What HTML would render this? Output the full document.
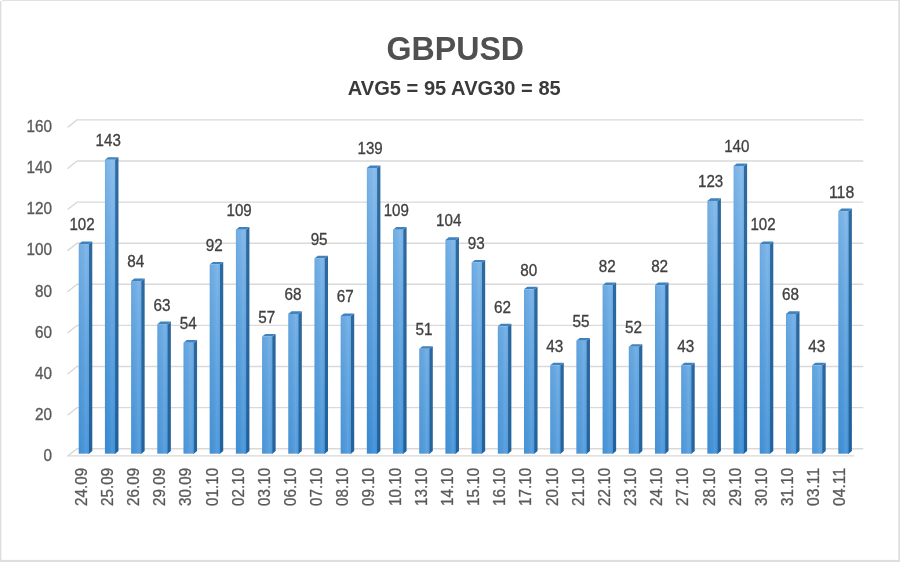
<!DOCTYPE html>
<html lang="en"><head><meta charset="utf-8"><title>GBPUSD</title>
<style>
html,body{margin:0;padding:0;background:#fff;}
body{width:900px;height:562px;overflow:hidden;}
svg{display:block;}
</style></head><body>
<svg width="900" height="562" viewBox="0 0 900 562">
<defs>
<linearGradient id="gh" x1="0" y1="0" x2="1" y2="0">
<stop offset="0" stop-color="#2a6fb0" stop-opacity="0.14"/><stop offset="0.25" stop-color="#2a6fb0" stop-opacity="0.03"/>
<stop offset="0.7" stop-color="#ffffff" stop-opacity="0.09"/><stop offset="1" stop-color="#ffffff" stop-opacity="0"/>
</linearGradient>

<linearGradient id="f43" gradientUnits="userSpaceOnUse" x1="0" y1="244.5" x2="0" y2="574.5"><stop offset="0" stop-color="#88bcec"/><stop offset="0.45" stop-color="#5fa3df"/><stop offset="1" stop-color="#378ad3"/></linearGradient>
<linearGradient id="s43" gradientUnits="userSpaceOnUse" x1="0" y1="244.5" x2="0" y2="574.5"><stop offset="0" stop-color="#316c9f"/><stop offset="1" stop-color="#1e5e9a"/></linearGradient>
<linearGradient id="f51" gradientUnits="userSpaceOnUse" x1="0" y1="236.3" x2="0" y2="566.3"><stop offset="0" stop-color="#88bcec"/><stop offset="0.45" stop-color="#5fa3df"/><stop offset="1" stop-color="#378ad3"/></linearGradient>
<linearGradient id="s51" gradientUnits="userSpaceOnUse" x1="0" y1="236.3" x2="0" y2="566.3"><stop offset="0" stop-color="#316c9f"/><stop offset="1" stop-color="#1e5e9a"/></linearGradient>
<linearGradient id="f52" gradientUnits="userSpaceOnUse" x1="0" y1="235.2" x2="0" y2="565.2"><stop offset="0" stop-color="#88bcec"/><stop offset="0.45" stop-color="#5fa3df"/><stop offset="1" stop-color="#378ad3"/></linearGradient>
<linearGradient id="s52" gradientUnits="userSpaceOnUse" x1="0" y1="235.2" x2="0" y2="565.2"><stop offset="0" stop-color="#316c9f"/><stop offset="1" stop-color="#1e5e9a"/></linearGradient>
<linearGradient id="f54" gradientUnits="userSpaceOnUse" x1="0" y1="233.2" x2="0" y2="563.2"><stop offset="0" stop-color="#88bcec"/><stop offset="0.45" stop-color="#5fa3df"/><stop offset="1" stop-color="#378ad3"/></linearGradient>
<linearGradient id="s54" gradientUnits="userSpaceOnUse" x1="0" y1="233.2" x2="0" y2="563.2"><stop offset="0" stop-color="#316c9f"/><stop offset="1" stop-color="#1e5e9a"/></linearGradient>
<linearGradient id="f55" gradientUnits="userSpaceOnUse" x1="0" y1="232.2" x2="0" y2="562.2"><stop offset="0" stop-color="#88bcec"/><stop offset="0.45" stop-color="#5fa3df"/><stop offset="1" stop-color="#378ad3"/></linearGradient>
<linearGradient id="s55" gradientUnits="userSpaceOnUse" x1="0" y1="232.2" x2="0" y2="562.2"><stop offset="0" stop-color="#316c9f"/><stop offset="1" stop-color="#1e5e9a"/></linearGradient>
<linearGradient id="f57" gradientUnits="userSpaceOnUse" x1="0" y1="230.1" x2="0" y2="560.1"><stop offset="0" stop-color="#88bcec"/><stop offset="0.45" stop-color="#5fa3df"/><stop offset="1" stop-color="#378ad3"/></linearGradient>
<linearGradient id="s57" gradientUnits="userSpaceOnUse" x1="0" y1="230.1" x2="0" y2="560.1"><stop offset="0" stop-color="#316c9f"/><stop offset="1" stop-color="#1e5e9a"/></linearGradient>
<linearGradient id="f62" gradientUnits="userSpaceOnUse" x1="0" y1="225.0" x2="0" y2="555.0"><stop offset="0" stop-color="#88bcec"/><stop offset="0.45" stop-color="#5fa3df"/><stop offset="1" stop-color="#378ad3"/></linearGradient>
<linearGradient id="s62" gradientUnits="userSpaceOnUse" x1="0" y1="225.0" x2="0" y2="555.0"><stop offset="0" stop-color="#316c9f"/><stop offset="1" stop-color="#1e5e9a"/></linearGradient>
<linearGradient id="f63" gradientUnits="userSpaceOnUse" x1="0" y1="223.9" x2="0" y2="553.9"><stop offset="0" stop-color="#88bcec"/><stop offset="0.45" stop-color="#5fa3df"/><stop offset="1" stop-color="#378ad3"/></linearGradient>
<linearGradient id="s63" gradientUnits="userSpaceOnUse" x1="0" y1="223.9" x2="0" y2="553.9"><stop offset="0" stop-color="#316c9f"/><stop offset="1" stop-color="#1e5e9a"/></linearGradient>
<linearGradient id="f67" gradientUnits="userSpaceOnUse" x1="0" y1="219.8" x2="0" y2="549.8"><stop offset="0" stop-color="#88bcec"/><stop offset="0.45" stop-color="#5fa3df"/><stop offset="1" stop-color="#378ad3"/></linearGradient>
<linearGradient id="s67" gradientUnits="userSpaceOnUse" x1="0" y1="219.8" x2="0" y2="549.8"><stop offset="0" stop-color="#316c9f"/><stop offset="1" stop-color="#1e5e9a"/></linearGradient>
<linearGradient id="f68" gradientUnits="userSpaceOnUse" x1="0" y1="218.8" x2="0" y2="548.8"><stop offset="0" stop-color="#88bcec"/><stop offset="0.45" stop-color="#5fa3df"/><stop offset="1" stop-color="#378ad3"/></linearGradient>
<linearGradient id="s68" gradientUnits="userSpaceOnUse" x1="0" y1="218.8" x2="0" y2="548.8"><stop offset="0" stop-color="#316c9f"/><stop offset="1" stop-color="#1e5e9a"/></linearGradient>
<linearGradient id="f80" gradientUnits="userSpaceOnUse" x1="0" y1="206.5" x2="0" y2="536.5"><stop offset="0" stop-color="#88bcec"/><stop offset="0.45" stop-color="#5fa3df"/><stop offset="1" stop-color="#378ad3"/></linearGradient>
<linearGradient id="s80" gradientUnits="userSpaceOnUse" x1="0" y1="206.5" x2="0" y2="536.5"><stop offset="0" stop-color="#316c9f"/><stop offset="1" stop-color="#1e5e9a"/></linearGradient>
<linearGradient id="f82" gradientUnits="userSpaceOnUse" x1="0" y1="204.4" x2="0" y2="534.4"><stop offset="0" stop-color="#88bcec"/><stop offset="0.45" stop-color="#5fa3df"/><stop offset="1" stop-color="#378ad3"/></linearGradient>
<linearGradient id="s82" gradientUnits="userSpaceOnUse" x1="0" y1="204.4" x2="0" y2="534.4"><stop offset="0" stop-color="#316c9f"/><stop offset="1" stop-color="#1e5e9a"/></linearGradient>
<linearGradient id="f84" gradientUnits="userSpaceOnUse" x1="0" y1="202.4" x2="0" y2="532.4"><stop offset="0" stop-color="#88bcec"/><stop offset="0.45" stop-color="#5fa3df"/><stop offset="1" stop-color="#378ad3"/></linearGradient>
<linearGradient id="s84" gradientUnits="userSpaceOnUse" x1="0" y1="202.4" x2="0" y2="532.4"><stop offset="0" stop-color="#316c9f"/><stop offset="1" stop-color="#1e5e9a"/></linearGradient>
<linearGradient id="f92" gradientUnits="userSpaceOnUse" x1="0" y1="194.1" x2="0" y2="524.1"><stop offset="0" stop-color="#88bcec"/><stop offset="0.45" stop-color="#5fa3df"/><stop offset="1" stop-color="#378ad3"/></linearGradient>
<linearGradient id="s92" gradientUnits="userSpaceOnUse" x1="0" y1="194.1" x2="0" y2="524.1"><stop offset="0" stop-color="#316c9f"/><stop offset="1" stop-color="#1e5e9a"/></linearGradient>
<linearGradient id="f93" gradientUnits="userSpaceOnUse" x1="0" y1="193.1" x2="0" y2="523.1"><stop offset="0" stop-color="#88bcec"/><stop offset="0.45" stop-color="#5fa3df"/><stop offset="1" stop-color="#378ad3"/></linearGradient>
<linearGradient id="s93" gradientUnits="userSpaceOnUse" x1="0" y1="193.1" x2="0" y2="523.1"><stop offset="0" stop-color="#316c9f"/><stop offset="1" stop-color="#1e5e9a"/></linearGradient>
<linearGradient id="f95" gradientUnits="userSpaceOnUse" x1="0" y1="191.1" x2="0" y2="521.1"><stop offset="0" stop-color="#88bcec"/><stop offset="0.45" stop-color="#5fa3df"/><stop offset="1" stop-color="#378ad3"/></linearGradient>
<linearGradient id="s95" gradientUnits="userSpaceOnUse" x1="0" y1="191.1" x2="0" y2="521.1"><stop offset="0" stop-color="#316c9f"/><stop offset="1" stop-color="#1e5e9a"/></linearGradient>
<linearGradient id="f102" gradientUnits="userSpaceOnUse" x1="0" y1="183.9" x2="0" y2="513.9"><stop offset="0" stop-color="#88bcec"/><stop offset="0.45" stop-color="#5fa3df"/><stop offset="1" stop-color="#378ad3"/></linearGradient>
<linearGradient id="s102" gradientUnits="userSpaceOnUse" x1="0" y1="183.9" x2="0" y2="513.9"><stop offset="0" stop-color="#316c9f"/><stop offset="1" stop-color="#1e5e9a"/></linearGradient>
<linearGradient id="f104" gradientUnits="userSpaceOnUse" x1="0" y1="181.8" x2="0" y2="511.8"><stop offset="0" stop-color="#88bcec"/><stop offset="0.45" stop-color="#5fa3df"/><stop offset="1" stop-color="#378ad3"/></linearGradient>
<linearGradient id="s104" gradientUnits="userSpaceOnUse" x1="0" y1="181.8" x2="0" y2="511.8"><stop offset="0" stop-color="#316c9f"/><stop offset="1" stop-color="#1e5e9a"/></linearGradient>
<linearGradient id="f109" gradientUnits="userSpaceOnUse" x1="0" y1="176.7" x2="0" y2="506.7"><stop offset="0" stop-color="#88bcec"/><stop offset="0.45" stop-color="#5fa3df"/><stop offset="1" stop-color="#378ad3"/></linearGradient>
<linearGradient id="s109" gradientUnits="userSpaceOnUse" x1="0" y1="176.7" x2="0" y2="506.7"><stop offset="0" stop-color="#316c9f"/><stop offset="1" stop-color="#1e5e9a"/></linearGradient>
<linearGradient id="f118" gradientUnits="userSpaceOnUse" x1="0" y1="167.4" x2="0" y2="497.4"><stop offset="0" stop-color="#88bcec"/><stop offset="0.45" stop-color="#5fa3df"/><stop offset="1" stop-color="#378ad3"/></linearGradient>
<linearGradient id="s118" gradientUnits="userSpaceOnUse" x1="0" y1="167.4" x2="0" y2="497.4"><stop offset="0" stop-color="#316c9f"/><stop offset="1" stop-color="#1e5e9a"/></linearGradient>
<linearGradient id="f123" gradientUnits="userSpaceOnUse" x1="0" y1="162.3" x2="0" y2="492.3"><stop offset="0" stop-color="#88bcec"/><stop offset="0.45" stop-color="#5fa3df"/><stop offset="1" stop-color="#378ad3"/></linearGradient>
<linearGradient id="s123" gradientUnits="userSpaceOnUse" x1="0" y1="162.3" x2="0" y2="492.3"><stop offset="0" stop-color="#316c9f"/><stop offset="1" stop-color="#1e5e9a"/></linearGradient>
<linearGradient id="f139" gradientUnits="userSpaceOnUse" x1="0" y1="145.8" x2="0" y2="475.8"><stop offset="0" stop-color="#88bcec"/><stop offset="0.45" stop-color="#5fa3df"/><stop offset="1" stop-color="#378ad3"/></linearGradient>
<linearGradient id="s139" gradientUnits="userSpaceOnUse" x1="0" y1="145.8" x2="0" y2="475.8"><stop offset="0" stop-color="#316c9f"/><stop offset="1" stop-color="#1e5e9a"/></linearGradient>
<linearGradient id="f140" gradientUnits="userSpaceOnUse" x1="0" y1="144.8" x2="0" y2="474.8"><stop offset="0" stop-color="#88bcec"/><stop offset="0.45" stop-color="#5fa3df"/><stop offset="1" stop-color="#378ad3"/></linearGradient>
<linearGradient id="s140" gradientUnits="userSpaceOnUse" x1="0" y1="144.8" x2="0" y2="474.8"><stop offset="0" stop-color="#316c9f"/><stop offset="1" stop-color="#1e5e9a"/></linearGradient>
<linearGradient id="f143" gradientUnits="userSpaceOnUse" x1="0" y1="141.7" x2="0" y2="471.7"><stop offset="0" stop-color="#88bcec"/><stop offset="0.45" stop-color="#5fa3df"/><stop offset="1" stop-color="#378ad3"/></linearGradient>
<linearGradient id="s143" gradientUnits="userSpaceOnUse" x1="0" y1="141.7" x2="0" y2="471.7"><stop offset="0" stop-color="#316c9f"/><stop offset="1" stop-color="#1e5e9a"/></linearGradient>
</defs>
<rect x="0" y="0" width="900" height="562" fill="#ffffff"/>
<g stroke="#d9d9d9" stroke-width="1.4" fill="none" stroke-linecap="round">
<path d="M68.00 455.90 L77.00 448.70 L862.80 448.70"/>
<path d="M68.00 414.80 L77.00 407.60 L862.80 407.60"/>
<path d="M68.00 373.70 L77.00 366.50 L862.80 366.50"/>
<path d="M68.00 332.60 L77.00 325.40 L862.80 325.40"/>
<path d="M68.00 291.50 L77.00 284.30 L862.80 284.30"/>
<path d="M68.00 250.40 L77.00 243.20 L862.80 243.20"/>
<path d="M68.00 209.30 L77.00 202.10 L862.80 202.10"/>
<path d="M68.00 168.20 L77.00 161.00 L862.80 161.00"/>
<path d="M68.00 127.10 L77.00 119.90 L862.80 119.90"/>
<path d="M68.00 455.90 L853.80 455.90"/>
</g>
<path d="M88.34 453.67 L89.04 453.67 L92.28 451.08 L92.28 241.47 L89.04 244.06 L88.34 244.06 Z" fill="url(#s102)"/>
<path d="M78.74 244.06 L81.98 241.47 L92.28 241.47 L89.04 244.06 Z" fill="#3f83be"/>
<rect x="78.74" y="244.06" width="10.30" height="209.61" fill="url(#f102)"/>
<rect x="78.74" y="244.06" width="10.30" height="209.61" fill="url(#gh)"/>
<path d="M114.53 453.67 L115.23 453.67 L118.47 451.08 L118.47 157.21 L115.23 159.80 L114.53 159.80 Z" fill="url(#s143)"/>
<path d="M104.93 159.80 L108.17 157.21 L118.47 157.21 L115.23 159.80 Z" fill="#3f83be"/>
<rect x="104.93" y="159.80" width="10.30" height="293.86" fill="url(#f143)"/>
<rect x="104.93" y="159.80" width="10.30" height="293.86" fill="url(#gh)"/>
<path d="M140.72 453.67 L141.42 453.67 L144.66 451.08 L144.66 278.46 L141.42 281.05 L140.72 281.05 Z" fill="url(#s84)"/>
<path d="M131.12 281.05 L134.36 278.46 L144.66 278.46 L141.42 281.05 Z" fill="#3f83be"/>
<rect x="131.12" y="281.05" width="10.30" height="172.62" fill="url(#f84)"/>
<rect x="131.12" y="281.05" width="10.30" height="172.62" fill="url(#gh)"/>
<path d="M166.92 453.67 L167.62 453.67 L170.86 451.08 L170.86 321.61 L167.62 324.20 L166.92 324.20 Z" fill="url(#s63)"/>
<path d="M157.32 324.20 L160.56 321.61 L170.86 321.61 L167.62 324.20 Z" fill="#3f83be"/>
<rect x="157.32" y="324.20" width="10.30" height="129.46" fill="url(#f63)"/>
<rect x="157.32" y="324.20" width="10.30" height="129.46" fill="url(#gh)"/>
<path d="M193.11 453.67 L193.81 453.67 L197.05 451.08 L197.05 340.11 L193.81 342.70 L193.11 342.70 Z" fill="url(#s54)"/>
<path d="M183.51 342.70 L186.75 340.11 L197.05 340.11 L193.81 342.70 Z" fill="#3f83be"/>
<rect x="183.51" y="342.70" width="10.30" height="110.97" fill="url(#f54)"/>
<rect x="183.51" y="342.70" width="10.30" height="110.97" fill="url(#gh)"/>
<path d="M219.30 453.67 L220.00 453.67 L223.24 451.08 L223.24 262.02 L220.00 264.61 L219.30 264.61 Z" fill="url(#s92)"/>
<path d="M209.70 264.61 L212.94 262.02 L223.24 262.02 L220.00 264.61 Z" fill="#3f83be"/>
<rect x="209.70" y="264.61" width="10.30" height="189.06" fill="url(#f92)"/>
<rect x="209.70" y="264.61" width="10.30" height="189.06" fill="url(#gh)"/>
<path d="M245.50 453.67 L246.20 453.67 L249.44 451.08 L249.44 227.08 L246.20 229.67 L245.50 229.67 Z" fill="url(#s109)"/>
<path d="M235.90 229.67 L239.14 227.08 L249.44 227.08 L246.20 229.67 Z" fill="#3f83be"/>
<rect x="235.90" y="229.67" width="10.30" height="223.99" fill="url(#f109)"/>
<rect x="235.90" y="229.67" width="10.30" height="223.99" fill="url(#gh)"/>
<path d="M271.69 453.67 L272.39 453.67 L275.63 451.08 L275.63 333.94 L272.39 336.53 L271.69 336.53 Z" fill="url(#s57)"/>
<path d="M262.09 336.53 L265.33 333.94 L275.63 333.94 L272.39 336.53 Z" fill="#3f83be"/>
<rect x="262.09" y="336.53" width="10.30" height="117.13" fill="url(#f57)"/>
<rect x="262.09" y="336.53" width="10.30" height="117.13" fill="url(#gh)"/>
<path d="M297.88 453.67 L298.58 453.67 L301.82 451.08 L301.82 311.34 L298.58 313.93 L297.88 313.93 Z" fill="url(#s68)"/>
<path d="M288.28 313.93 L291.52 311.34 L301.82 311.34 L298.58 313.93 Z" fill="#3f83be"/>
<rect x="288.28" y="313.93" width="10.30" height="139.74" fill="url(#f68)"/>
<rect x="288.28" y="313.93" width="10.30" height="139.74" fill="url(#gh)"/>
<path d="M324.08 453.67 L324.78 453.67 L328.02 451.08 L328.02 255.85 L324.78 258.44 L324.08 258.44 Z" fill="url(#s95)"/>
<path d="M314.48 258.44 L317.72 255.85 L328.02 255.85 L324.78 258.44 Z" fill="#3f83be"/>
<rect x="314.48" y="258.44" width="10.30" height="195.22" fill="url(#f95)"/>
<rect x="314.48" y="258.44" width="10.30" height="195.22" fill="url(#gh)"/>
<path d="M350.27 453.67 L350.97 453.67 L354.21 451.08 L354.21 313.39 L350.97 315.98 L350.27 315.98 Z" fill="url(#s67)"/>
<path d="M340.67 315.98 L343.91 313.39 L354.21 313.39 L350.97 315.98 Z" fill="#3f83be"/>
<rect x="340.67" y="315.98" width="10.30" height="137.68" fill="url(#f67)"/>
<rect x="340.67" y="315.98" width="10.30" height="137.68" fill="url(#gh)"/>
<path d="M376.46 453.67 L377.16 453.67 L380.40 451.08 L380.40 165.43 L377.16 168.02 L376.46 168.02 Z" fill="url(#s139)"/>
<path d="M366.86 168.02 L370.10 165.43 L380.40 165.43 L377.16 168.02 Z" fill="#3f83be"/>
<rect x="366.86" y="168.02" width="10.30" height="285.64" fill="url(#f139)"/>
<rect x="366.86" y="168.02" width="10.30" height="285.64" fill="url(#gh)"/>
<path d="M402.66 453.67 L403.36 453.67 L406.60 451.08 L406.60 227.08 L403.36 229.67 L402.66 229.67 Z" fill="url(#s109)"/>
<path d="M393.06 229.67 L396.30 227.08 L406.60 227.08 L403.36 229.67 Z" fill="#3f83be"/>
<rect x="393.06" y="229.67" width="10.30" height="223.99" fill="url(#f109)"/>
<rect x="393.06" y="229.67" width="10.30" height="223.99" fill="url(#gh)"/>
<path d="M428.85 453.67 L429.55 453.67 L432.79 451.08 L432.79 346.27 L429.55 348.86 L428.85 348.86 Z" fill="url(#s51)"/>
<path d="M419.25 348.86 L422.49 346.27 L432.79 346.27 L429.55 348.86 Z" fill="#3f83be"/>
<rect x="419.25" y="348.86" width="10.30" height="104.80" fill="url(#f51)"/>
<rect x="419.25" y="348.86" width="10.30" height="104.80" fill="url(#gh)"/>
<path d="M455.04 453.67 L455.74 453.67 L458.98 451.08 L458.98 237.36 L455.74 239.95 L455.04 239.95 Z" fill="url(#s104)"/>
<path d="M445.44 239.95 L448.68 237.36 L458.98 237.36 L455.74 239.95 Z" fill="#3f83be"/>
<rect x="445.44" y="239.95" width="10.30" height="213.72" fill="url(#f104)"/>
<rect x="445.44" y="239.95" width="10.30" height="213.72" fill="url(#gh)"/>
<path d="M481.24 453.67 L481.94 453.67 L485.18 451.08 L485.18 259.96 L481.94 262.55 L481.24 262.55 Z" fill="url(#s93)"/>
<path d="M471.64 262.55 L474.88 259.96 L485.18 259.96 L481.94 262.55 Z" fill="#3f83be"/>
<rect x="471.64" y="262.55" width="10.30" height="191.12" fill="url(#f93)"/>
<rect x="471.64" y="262.55" width="10.30" height="191.12" fill="url(#gh)"/>
<path d="M507.43 453.67 L508.13 453.67 L511.37 451.08 L511.37 323.67 L508.13 326.26 L507.43 326.26 Z" fill="url(#s62)"/>
<path d="M497.83 326.26 L501.07 323.67 L511.37 323.67 L508.13 326.26 Z" fill="#3f83be"/>
<rect x="497.83" y="326.26" width="10.30" height="127.41" fill="url(#f62)"/>
<rect x="497.83" y="326.26" width="10.30" height="127.41" fill="url(#gh)"/>
<path d="M533.62 453.67 L534.32 453.67 L537.56 451.08 L537.56 286.68 L534.32 289.27 L533.62 289.27 Z" fill="url(#s80)"/>
<path d="M524.02 289.27 L527.26 286.68 L537.56 286.68 L534.32 289.27 Z" fill="#3f83be"/>
<rect x="524.02" y="289.27" width="10.30" height="164.40" fill="url(#f80)"/>
<rect x="524.02" y="289.27" width="10.30" height="164.40" fill="url(#gh)"/>
<path d="M559.82 453.67 L560.52 453.67 L563.76 451.08 L563.76 362.71 L560.52 365.30 L559.82 365.30 Z" fill="url(#s43)"/>
<path d="M550.22 365.30 L553.46 362.71 L563.76 362.71 L560.52 365.30 Z" fill="#3f83be"/>
<rect x="550.22" y="365.30" width="10.30" height="88.37" fill="url(#f43)"/>
<rect x="550.22" y="365.30" width="10.30" height="88.37" fill="url(#gh)"/>
<path d="M586.01 453.67 L586.71 453.67 L589.95 451.08 L589.95 338.05 L586.71 340.64 L586.01 340.64 Z" fill="url(#s55)"/>
<path d="M576.41 340.64 L579.65 338.05 L589.95 338.05 L586.71 340.64 Z" fill="#3f83be"/>
<rect x="576.41" y="340.64" width="10.30" height="113.02" fill="url(#f55)"/>
<rect x="576.41" y="340.64" width="10.30" height="113.02" fill="url(#gh)"/>
<path d="M612.20 453.67 L612.90 453.67 L616.14 451.08 L616.14 282.57 L612.90 285.16 L612.20 285.16 Z" fill="url(#s82)"/>
<path d="M602.60 285.16 L605.84 282.57 L616.14 282.57 L612.90 285.16 Z" fill="#3f83be"/>
<rect x="602.60" y="285.16" width="10.30" height="168.51" fill="url(#f82)"/>
<rect x="602.60" y="285.16" width="10.30" height="168.51" fill="url(#gh)"/>
<path d="M638.40 453.67 L639.10 453.67 L642.34 451.08 L642.34 344.22 L639.10 346.81 L638.40 346.81 Z" fill="url(#s52)"/>
<path d="M628.80 346.81 L632.04 344.22 L642.34 344.22 L639.10 346.81 Z" fill="#3f83be"/>
<rect x="628.80" y="346.81" width="10.30" height="106.86" fill="url(#f52)"/>
<rect x="628.80" y="346.81" width="10.30" height="106.86" fill="url(#gh)"/>
<path d="M664.59 453.67 L665.29 453.67 L668.53 451.08 L668.53 282.57 L665.29 285.16 L664.59 285.16 Z" fill="url(#s82)"/>
<path d="M654.99 285.16 L658.23 282.57 L668.53 282.57 L665.29 285.16 Z" fill="#3f83be"/>
<rect x="654.99" y="285.16" width="10.30" height="168.51" fill="url(#f82)"/>
<rect x="654.99" y="285.16" width="10.30" height="168.51" fill="url(#gh)"/>
<path d="M690.78 453.67 L691.48 453.67 L694.72 451.08 L694.72 362.71 L691.48 365.30 L690.78 365.30 Z" fill="url(#s43)"/>
<path d="M681.18 365.30 L684.42 362.71 L694.72 362.71 L691.48 365.30 Z" fill="#3f83be"/>
<rect x="681.18" y="365.30" width="10.30" height="88.37" fill="url(#f43)"/>
<rect x="681.18" y="365.30" width="10.30" height="88.37" fill="url(#gh)"/>
<path d="M716.98 453.67 L717.68 453.67 L720.92 451.08 L720.92 198.31 L717.68 200.90 L716.98 200.90 Z" fill="url(#s123)"/>
<path d="M707.38 200.90 L710.62 198.31 L720.92 198.31 L717.68 200.90 Z" fill="#3f83be"/>
<rect x="707.38" y="200.90" width="10.30" height="252.76" fill="url(#f123)"/>
<rect x="707.38" y="200.90" width="10.30" height="252.76" fill="url(#gh)"/>
<path d="M743.17 453.67 L743.87 453.67 L747.11 451.08 L747.11 163.38 L743.87 165.97 L743.17 165.97 Z" fill="url(#s140)"/>
<path d="M733.57 165.97 L736.81 163.38 L747.11 163.38 L743.87 165.97 Z" fill="#3f83be"/>
<rect x="733.57" y="165.97" width="10.30" height="287.70" fill="url(#f140)"/>
<rect x="733.57" y="165.97" width="10.30" height="287.70" fill="url(#gh)"/>
<path d="M769.36 453.67 L770.06 453.67 L773.30 451.08 L773.30 241.47 L770.06 244.06 L769.36 244.06 Z" fill="url(#s102)"/>
<path d="M759.76 244.06 L763.00 241.47 L773.30 241.47 L770.06 244.06 Z" fill="#3f83be"/>
<rect x="759.76" y="244.06" width="10.30" height="209.61" fill="url(#f102)"/>
<rect x="759.76" y="244.06" width="10.30" height="209.61" fill="url(#gh)"/>
<path d="M795.56 453.67 L796.26 453.67 L799.50 451.08 L799.50 311.34 L796.26 313.93 L795.56 313.93 Z" fill="url(#s68)"/>
<path d="M785.96 313.93 L789.20 311.34 L799.50 311.34 L796.26 313.93 Z" fill="#3f83be"/>
<rect x="785.96" y="313.93" width="10.30" height="139.74" fill="url(#f68)"/>
<rect x="785.96" y="313.93" width="10.30" height="139.74" fill="url(#gh)"/>
<path d="M821.75 453.67 L822.45 453.67 L825.69 451.08 L825.69 362.71 L822.45 365.30 L821.75 365.30 Z" fill="url(#s43)"/>
<path d="M812.15 365.30 L815.39 362.71 L825.69 362.71 L822.45 365.30 Z" fill="#3f83be"/>
<rect x="812.15" y="365.30" width="10.30" height="88.37" fill="url(#f43)"/>
<rect x="812.15" y="365.30" width="10.30" height="88.37" fill="url(#gh)"/>
<path d="M847.94 453.67 L848.64 453.67 L851.88 451.08 L851.88 208.59 L848.64 211.18 L847.94 211.18 Z" fill="url(#s118)"/>
<path d="M838.34 211.18 L841.58 208.59 L851.88 208.59 L848.64 211.18 Z" fill="#3f83be"/>
<rect x="838.34" y="211.18" width="10.30" height="242.49" fill="url(#f118)"/>
<rect x="838.34" y="211.18" width="10.30" height="242.49" fill="url(#gh)"/>
<g font-family="'Liberation Sans', sans-serif" font-size="15.8" fill="#404040" stroke="#404040" stroke-width="0.3" text-anchor="middle">
<text x="81.99" y="230.46" textLength="25.20" lengthAdjust="spacingAndGlyphs">102</text>
<text x="108.18" y="146.20" textLength="25.20" lengthAdjust="spacingAndGlyphs">143</text>
<text x="135.77" y="267.45" textLength="17.00" lengthAdjust="spacingAndGlyphs">84</text>
<text x="161.97" y="310.60" textLength="17.00" lengthAdjust="spacingAndGlyphs">63</text>
<text x="188.16" y="329.10" textLength="17.00" lengthAdjust="spacingAndGlyphs">54</text>
<text x="214.35" y="251.01" textLength="17.00" lengthAdjust="spacingAndGlyphs">92</text>
<text x="239.15" y="216.07" textLength="25.20" lengthAdjust="spacingAndGlyphs">109</text>
<text x="266.74" y="322.93" textLength="17.00" lengthAdjust="spacingAndGlyphs">57</text>
<text x="292.93" y="300.33" textLength="17.00" lengthAdjust="spacingAndGlyphs">68</text>
<text x="319.13" y="244.84" textLength="17.00" lengthAdjust="spacingAndGlyphs">95</text>
<text x="345.32" y="302.38" textLength="17.00" lengthAdjust="spacingAndGlyphs">67</text>
<text x="370.11" y="154.42" textLength="25.20" lengthAdjust="spacingAndGlyphs">139</text>
<text x="396.31" y="216.07" textLength="25.20" lengthAdjust="spacingAndGlyphs">109</text>
<text x="423.90" y="335.26" textLength="17.00" lengthAdjust="spacingAndGlyphs">51</text>
<text x="448.69" y="226.35" textLength="25.20" lengthAdjust="spacingAndGlyphs">104</text>
<text x="476.29" y="248.95" textLength="17.00" lengthAdjust="spacingAndGlyphs">93</text>
<text x="502.48" y="312.66" textLength="17.00" lengthAdjust="spacingAndGlyphs">62</text>
<text x="528.67" y="275.67" textLength="17.00" lengthAdjust="spacingAndGlyphs">80</text>
<text x="554.87" y="351.70" textLength="17.00" lengthAdjust="spacingAndGlyphs">43</text>
<text x="581.06" y="327.04" textLength="17.00" lengthAdjust="spacingAndGlyphs">55</text>
<text x="607.25" y="271.56" textLength="17.00" lengthAdjust="spacingAndGlyphs">82</text>
<text x="633.45" y="333.21" textLength="17.00" lengthAdjust="spacingAndGlyphs">52</text>
<text x="659.64" y="271.56" textLength="17.00" lengthAdjust="spacingAndGlyphs">82</text>
<text x="685.83" y="351.70" textLength="17.00" lengthAdjust="spacingAndGlyphs">43</text>
<text x="710.63" y="187.30" textLength="25.20" lengthAdjust="spacingAndGlyphs">123</text>
<text x="736.82" y="152.37" textLength="25.20" lengthAdjust="spacingAndGlyphs">140</text>
<text x="763.01" y="230.46" textLength="25.20" lengthAdjust="spacingAndGlyphs">102</text>
<text x="790.61" y="300.33" textLength="17.00" lengthAdjust="spacingAndGlyphs">68</text>
<text x="816.80" y="351.70" textLength="17.00" lengthAdjust="spacingAndGlyphs">43</text>
<text x="841.59" y="197.58" textLength="25.20" lengthAdjust="spacingAndGlyphs">118</text>
</g>
<g font-family="'Liberation Sans', sans-serif" font-size="15.8" fill="#595959" stroke="#595959" stroke-width="0.3" text-anchor="end">
<text x="52.0" y="460.90" textLength="8.50" lengthAdjust="spacingAndGlyphs">0</text>
<text x="52.0" y="419.80" textLength="17.00" lengthAdjust="spacingAndGlyphs">20</text>
<text x="52.0" y="378.70" textLength="17.00" lengthAdjust="spacingAndGlyphs">40</text>
<text x="52.0" y="337.60" textLength="17.00" lengthAdjust="spacingAndGlyphs">60</text>
<text x="52.0" y="296.50" textLength="17.00" lengthAdjust="spacingAndGlyphs">80</text>
<text x="52.0" y="255.40" textLength="25.50" lengthAdjust="spacingAndGlyphs">100</text>
<text x="52.0" y="214.30" textLength="25.50" lengthAdjust="spacingAndGlyphs">120</text>
<text x="52.0" y="173.20" textLength="25.50" lengthAdjust="spacingAndGlyphs">140</text>
<text x="52.0" y="132.10" textLength="25.50" lengthAdjust="spacingAndGlyphs">160</text>
</g>
<g font-family="'Liberation Sans', sans-serif" font-size="15.8" fill="#595959" stroke="#595959" stroke-width="0.3" text-anchor="end">
<text transform="translate(86.70 467.9) rotate(-90)" textLength="38.0" lengthAdjust="spacingAndGlyphs">24.09</text>
<text transform="translate(112.86 467.9) rotate(-90)" textLength="38.0" lengthAdjust="spacingAndGlyphs">25.09</text>
<text transform="translate(139.02 467.9) rotate(-90)" textLength="38.0" lengthAdjust="spacingAndGlyphs">26.09</text>
<text transform="translate(165.18 467.9) rotate(-90)" textLength="38.0" lengthAdjust="spacingAndGlyphs">29.09</text>
<text transform="translate(191.34 467.9) rotate(-90)" textLength="38.0" lengthAdjust="spacingAndGlyphs">30.09</text>
<text transform="translate(217.50 467.9) rotate(-90)" textLength="38.0" lengthAdjust="spacingAndGlyphs">01.10</text>
<text transform="translate(243.66 467.9) rotate(-90)" textLength="38.0" lengthAdjust="spacingAndGlyphs">02.10</text>
<text transform="translate(269.82 467.9) rotate(-90)" textLength="38.0" lengthAdjust="spacingAndGlyphs">03.10</text>
<text transform="translate(295.98 467.9) rotate(-90)" textLength="38.0" lengthAdjust="spacingAndGlyphs">06.10</text>
<text transform="translate(322.14 467.9) rotate(-90)" textLength="38.0" lengthAdjust="spacingAndGlyphs">07.10</text>
<text transform="translate(348.30 467.9) rotate(-90)" textLength="38.0" lengthAdjust="spacingAndGlyphs">08.10</text>
<text transform="translate(374.46 467.9) rotate(-90)" textLength="38.0" lengthAdjust="spacingAndGlyphs">09.10</text>
<text transform="translate(400.62 467.9) rotate(-90)" textLength="38.0" lengthAdjust="spacingAndGlyphs">10.10</text>
<text transform="translate(426.78 467.9) rotate(-90)" textLength="38.0" lengthAdjust="spacingAndGlyphs">13.10</text>
<text transform="translate(452.94 467.9) rotate(-90)" textLength="38.0" lengthAdjust="spacingAndGlyphs">14.10</text>
<text transform="translate(479.10 467.9) rotate(-90)" textLength="38.0" lengthAdjust="spacingAndGlyphs">15.10</text>
<text transform="translate(505.26 467.9) rotate(-90)" textLength="38.0" lengthAdjust="spacingAndGlyphs">16.10</text>
<text transform="translate(531.42 467.9) rotate(-90)" textLength="38.0" lengthAdjust="spacingAndGlyphs">17.10</text>
<text transform="translate(557.58 467.9) rotate(-90)" textLength="38.0" lengthAdjust="spacingAndGlyphs">20.10</text>
<text transform="translate(583.74 467.9) rotate(-90)" textLength="38.0" lengthAdjust="spacingAndGlyphs">21.10</text>
<text transform="translate(609.90 467.9) rotate(-90)" textLength="38.0" lengthAdjust="spacingAndGlyphs">22.10</text>
<text transform="translate(636.06 467.9) rotate(-90)" textLength="38.0" lengthAdjust="spacingAndGlyphs">23.10</text>
<text transform="translate(662.22 467.9) rotate(-90)" textLength="38.0" lengthAdjust="spacingAndGlyphs">24.10</text>
<text transform="translate(688.38 467.9) rotate(-90)" textLength="38.0" lengthAdjust="spacingAndGlyphs">27.10</text>
<text transform="translate(714.54 467.9) rotate(-90)" textLength="38.0" lengthAdjust="spacingAndGlyphs">28.10</text>
<text transform="translate(740.70 467.9) rotate(-90)" textLength="38.0" lengthAdjust="spacingAndGlyphs">29.10</text>
<text transform="translate(766.86 467.9) rotate(-90)" textLength="38.0" lengthAdjust="spacingAndGlyphs">30.10</text>
<text transform="translate(793.02 467.9) rotate(-90)" textLength="38.0" lengthAdjust="spacingAndGlyphs">31.10</text>
<text transform="translate(819.18 467.9) rotate(-90)" textLength="38.0" lengthAdjust="spacingAndGlyphs">03.11</text>
<text transform="translate(845.34 467.9) rotate(-90)" textLength="38.0" lengthAdjust="spacingAndGlyphs">04.11</text>
</g>
<text x="455.3" y="60.4" font-family="'Liberation Sans', sans-serif" font-weight="bold" font-size="32.8" fill="#505050" text-anchor="middle" textLength="137.6" lengthAdjust="spacingAndGlyphs">GBPUSD</text>
<text x="454.3" y="94.5" font-family="'Liberation Sans', sans-serif" font-weight="bold" font-size="20" fill="#3a3a3a" text-anchor="middle" textLength="213" lengthAdjust="spacingAndGlyphs">AVG5 = 95 AVG30 = 85</text>
<rect x="2" y="0" width="898" height="0.9" fill="#dedede"/>
<rect x="0" y="1" width="1.4" height="561" fill="#dedede"/>
<rect x="898.3" y="0" width="1.7" height="562" fill="#dedede"/>
<rect x="0" y="559.9" width="900" height="2.1" fill="#dedede"/>
</svg>
</body></html>
